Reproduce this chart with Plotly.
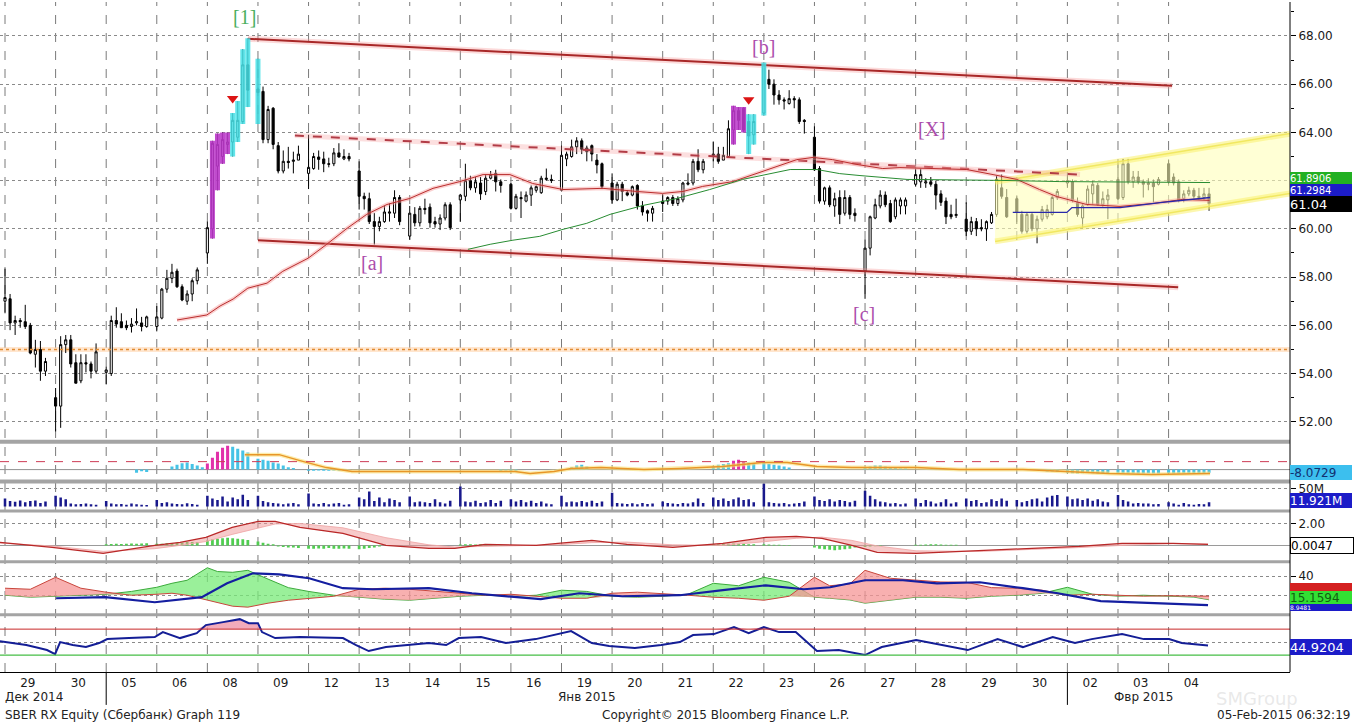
import plotly.graph_objects as go

# ---------------- data ----------------
day_labels = ["29", "30", "05", "06", "08", "09", "12", "13", "14", "15", "16", "19",
              "20", "21", "22", "23", "26", "27", "28", "29", "30", "02", "03", "04"]
month_labels = ["Дек 2014", "Янв 2015", "Фвр 2015"]
month_label_slots = [None, 115, 225]
month_break_slots = [20, 210]
BARS_PER_DAY = 9
SLOTS_PER_DAY = 10

opens = [57.0, 57.1, 56.1, 56.2, 56.15, 56.0, 54.8, 55.0, 54.1,
         53.0, 52.65, 55.2, 55.4, 54.45, 53.7, 54.45, 54.4, 54.1,
         54.05, 54.0, 56.2, 56.15, 56.0, 55.95, 56.1, 56.1, 55.95,
         55.95, 56.3, 57.5, 57.95, 58.25, 57.6, 57.0, 57.3, 57.85,
         59.0, 60.0, 62.6, 63.0, 63.5, 63.6, 63.8, 64.45, 66.8,
         65.8, 65.7, 63.7, 65.0, 63.45, 62.4, 62.8, 62.8, 62.85,
         62.3, 62.5, 62.98, 62.9, 62.7, 62.7, 63.15, 62.9, 63.0,
         62.4, 61.35, 61.25, 60.3, 60.1, 60.3, 60.65, 60.65, 61.3,
         59.7, 60.6, 60.25, 60.85, 60.9, 60.3, 60.2, 60.45, 61.0,
         61.2, 61.35, 62.0, 61.7, 61.9, 61.55, 62.1, 62.3, 61.95,
         61.85, 60.85, 61.3, 61.15, 61.4, 61.6, 61.5, 62.05, 62.05,
         61.6, 62.9, 63.0, 63.4, 63.65, 63.2, 63.45, 62.85, 62.7,
         61.9, 61.2, 61.85, 61.5, 61.4, 61.8, 60.95, 60.75, 60.65,
         61.15, 61.15, 61.3, 61.05, 61.2, 61.85, 61.9, 62.8, 62.45,
         63.1, 63.1, 62.85, 63.0, 64.1, 64.9, 65.0, 64.45, 63.9,
         64.8, 66.2, 66.0, 65.55, 65.35, 65.2, 65.4, 65.35, 64.5,
         63.8, 62.5, 61.15, 61.7, 60.95, 61.3, 60.65, 61.3, 60.65,
         58.25, 59.2, 60.45, 60.95, 61.4, 61.05, 60.5, 60.95, 60.95,
         61.85, 61.95, 61.9, 61.95, 61.85, 61.45, 61.15, 60.6, 60.55,
         60.4, 59.9, 60.3, 60.05, 60.0, 60.25, 60.6, 61.7, 61.3,
         61.25, 60.6, 59.9, 60.6, 60.0, 60.4, 60.5, 60.6, 61.3,
         61.9, 61.95, 61.1, 60.45, 61.0, 61.45, 61.8, 61.0, 61.2,
         62.05, 61.3, 62.7, 61.95, 62.15, 61.95, 61.9, 61.9, 61.85,
         62.7, 62.15, 61.95, 61.25, 61.45, 61.6, 61.35, 61.3, 61.45]
highs = [58.35, 57.3, 56.4, 56.3, 56.85, 56.1, 55.4, 55.35, 54.65,
         53.4, 55.55, 55.6, 55.6, 54.8, 54.8, 54.8, 54.5, 55.25,
         54.3, 56.4, 56.75, 56.5, 56.2, 56.3, 56.7, 56.35, 56.4,
         56.8, 57.55, 58.3, 58.55, 58.35, 57.7, 57.45, 57.95, 58.4,
         60.3, 63.65, 63.95, 64.0, 64.0, 64.8, 65.3, 67.45, 67.9,
         67.05, 65.9, 65.1, 65.05, 63.6, 63.25, 63.4, 63.2, 63.45,
         63.9, 63.15, 63.25, 63.2, 62.95, 63.35, 63.55, 63.3, 63.15,
         62.8, 61.5, 61.5, 60.65, 60.5, 60.95, 61.05, 61.6, 61.4,
         60.95, 60.9, 60.95, 61.25, 61.05, 60.5, 60.6, 61.1, 61.1,
         61.45, 62.7, 62.2, 62.15, 62.15, 62.25, 62.4, 62.45, 62.05,
         61.9, 61.45, 61.55, 61.55, 61.8, 61.8, 62.2, 62.5, 62.25,
         63.45, 63.2, 63.7, 63.8, 63.75, 63.45, 63.5, 63.1, 62.75,
         62.3, 61.95, 61.95, 61.6, 61.8, 61.85, 61.15, 60.8, 60.95,
         61.45, 61.35, 61.4, 61.35, 61.95, 62.3, 62.9, 63.3, 62.9,
         63.6, 63.4, 63.4, 64.5, 65.1, 65.05, 65.05, 64.75, 64.75,
         66.9, 66.6, 66.2, 65.75, 65.45, 65.75, 65.5, 65.45, 64.55,
         64.25, 62.6, 61.75, 61.8, 61.5, 61.6, 61.6, 61.4, 60.85,
         59.55, 60.55, 61.25, 61.6, 61.55, 61.2, 61.3, 61.3, 61.3,
         62.5, 62.5, 62.1, 62.15, 62.0, 61.6, 61.3, 61.0, 61.25,
         61.1, 60.5, 60.45, 60.4, 60.35, 60.7, 62.2, 62.25, 61.65,
         61.35, 60.75, 60.7, 60.7, 60.55, 60.95, 61.0, 61.4, 61.65,
         62.35, 62.05, 61.3, 61.05, 61.8, 62.0, 61.9, 61.55, 61.65,
         62.8, 62.9, 62.9, 62.4, 62.4, 62.05, 62.1, 62.05, 62.15,
         62.85, 62.3, 62.05, 61.6, 61.75, 61.7, 61.7, 61.7, 61.7]
lows = [56.5, 55.8, 55.6, 55.9, 55.85, 54.8, 54.25, 53.7, 53.9,
        51.6, 51.75, 54.85, 54.25, 53.6, 53.6, 54.05, 53.8, 54.0,
        53.55, 53.9, 55.9, 55.9, 55.8, 55.7, 56.0, 55.75, 55.9,
        55.75, 56.25, 57.35, 57.75, 57.55, 57.0, 56.85, 57.0, 57.7,
        58.55, 59.6, 61.6, 62.7, 63.1, 63.0, 63.6, 64.35, 65.05,
        64.35, 63.55, 63.55, 63.3, 62.3, 62.3, 62.5, 62.3, 62.85,
        61.65, 62.45, 62.45, 62.35, 62.55, 62.6, 62.95, 62.85, 62.8,
        60.8, 60.8, 60.2, 59.35, 59.9, 60.25, 60.3, 60.45, 60.15,
        59.55, 60.1, 60.1, 60.6, 60.05, 60.05, 59.95, 60.35, 59.95,
        60.3, 61.15, 61.6, 61.5, 61.2, 61.4, 62.05, 61.55, 61.5,
        60.8, 60.8, 60.45, 61.1, 60.95, 61.5, 61.45, 62.0, 61.9,
        61.55, 62.6, 62.95, 63.1, 63.1, 62.8, 62.8, 62.3, 61.65,
        61.05, 61.15, 61.15, 61.35, 61.35, 60.8, 60.55, 60.3, 60.3,
        60.7, 61.0, 60.95, 60.95, 61.1, 61.8, 61.8, 62.35, 62.3,
        62.8, 62.7, 62.85, 62.95, 63.5, 64.1, 64.0, 63.1, 63.5,
        64.7, 65.8, 65.15, 65.15, 64.95, 65.15, 65.0, 64.35, 63.95,
        62.4, 61.05, 61.0, 60.9, 60.5, 60.2, 60.55, 60.4, 60.3,
        57.1, 58.9, 60.4, 60.85, 60.9, 60.25, 60.4, 60.6, 60.6,
        61.75, 61.7, 61.7, 61.75, 60.8, 60.95, 60.2, 60.4, 60.45,
        59.7, 59.75, 59.7, 59.9, 59.5, 60.2, 60.5, 61.25, 60.45,
        60.2, 59.8, 59.8, 59.9, 59.4, 60.3, 60.4, 60.55, 61.2,
        61.7, 61.1, 60.5, 60.05, 60.95, 61.0, 60.95, 60.9, 60.4,
        61.2, 61.2, 61.85, 61.7, 61.85, 61.3, 61.6, 61.1, 61.8,
        61.85, 61.8, 61.1, 61.1, 61.35, 61.2, 61.2, 61.2, 60.75]
closes = [57.15, 56.1, 56.2, 56.15, 55.95, 54.85, 55.0, 54.1, 54.5,
          52.65, 55.2, 55.4, 54.4, 53.6, 54.45, 54.4, 54.1, 54.9,
          54.15, 56.2, 56.05, 55.9, 55.9, 56.05, 56.15, 55.95, 56.35,
          56.35, 57.5, 57.95, 58.2, 57.6, 57.05, 57.3, 57.85, 58.3,
          60.05, 63.55, 63.5, 63.7, 63.6, 64.5, 64.5, 66.8, 65.75,
          65.65, 63.7, 64.95, 63.5, 62.4, 62.8, 62.75, 62.85, 63.1,
          62.55, 63.0, 62.88, 62.7, 62.68, 63.15, 62.98, 63.0, 62.9,
          61.35, 61.25, 60.3, 60.1, 60.3, 60.7, 60.7, 61.3, 60.3,
          60.65, 60.25, 60.85, 60.8, 60.25, 60.2, 60.45, 61.0, 60.05,
          61.4, 62.0, 61.7, 61.95, 61.45, 62.1, 62.25, 61.95, 61.8,
          60.85, 61.35, 61.25, 61.4, 61.7, 61.75, 62.1, 62.1, 62.0,
          63.05, 63.1, 63.4, 63.65, 63.3, 63.35, 63.1, 62.65, 61.75,
          61.2, 61.85, 61.55, 61.4, 61.75, 60.95, 60.7, 60.65, 60.85,
          61.05, 61.3, 61.05, 61.25, 61.9, 61.9, 62.8, 62.45, 62.8,
          63.05, 62.8, 63.05, 64.15, 64.9, 64.5, 64.1, 63.85, 64.45,
          66.8, 66.0, 65.55, 65.35, 65.3, 65.4, 65.35, 64.45, 64.45,
          62.45, 61.15, 61.7, 61.0, 61.25, 60.6, 61.3, 60.6, 60.55,
          59.2, 60.5, 61.0, 61.4, 61.0, 60.3, 61.2, 61.2, 61.2,
          62.25, 62.25, 61.95, 61.85, 61.4, 61.1, 60.5, 60.5, 60.6,
          59.9, 60.3, 60.0, 60.0, 60.3, 60.6, 62.05, 61.35, 60.5,
          60.7, 59.9, 60.6, 60.0, 60.4, 60.8, 60.8, 61.3, 61.55,
          62.0, 61.2, 60.6, 60.95, 61.65, 61.85, 61.0, 61.25, 61.4,
          61.25, 62.7, 61.95, 62.15, 61.95, 61.85, 61.85, 61.75, 62.05,
          61.95, 61.9, 61.2, 61.45, 61.6, 61.35, 61.3, 61.45, 61.04]
volume_m = [22, 15, 13, 17, 12, 15, 17, 10, 14,
            30, 25, 20, 8, 6, 7, 8, 6, 5,
            15, 8, 6, 7, 5, 8, 6, 5, 4,
            18, 10, 12, 8, 7, 6, 9, 7, 5,
            30, 22, 18, 28, 14, 25, 20, 33, 18,
            30, 15, 12, 10, 8, 6, 8, 10, 6,
            36, 8, 7, 10, 6, 8, 10, 5, 6,
            25, 20, 42, 15, 25, 12, 22, 18, 12,
            28, 12, 14, 12, 10, 20, 12, 8, 16,
            56, 14, 12, 16, 10, 12, 18, 10, 16,
            20, 14, 18, 12, 16, 10, 14, 8, 6,
            30, 12, 14, 12, 15, 12, 16, 10, 14,
            38, 10, 8, 7, 9, 6, 10, 7, 8,
            14, 10, 8, 7, 10, 8, 12, 22, 10,
            25, 18, 22, 15, 20, 25, 18, 20, 12,
            75, 12, 10, 8, 10, 6, 8, 10, 14,
            28, 18, 15, 20, 14, 18, 15, 12, 16,
            44, 30, 20, 14, 12, 8, 10, 6, 8,
            22, 10, 18, 14, 8, 12, 20, 8, 12,
            22, 15, 18, 10, 12, 20, 15, 22, 16,
            18, 12, 15, 20, 22, 14, 25, 30, 32,
            28, 20, 22, 18, 22, 16, 20, 14, 12,
            32, 18, 14, 8, 10, 8, 8, 6, 7,
            12, 8, 5, 10, 6, 5, 7, 6, 11.921]

# signal-highlighted candles (indicator overlay) and sell signals
purple_idx = [37, 38, 39, 40, 130, 131, 132]
cyan_idx = [41, 42, 43, 44, 45, 133, 134, 135]
signal_idx = [41, 133]

# moving averages (slot, price)
red_ma_slots = [34.0, 39.9, 42.5, 45.1, 48.0, 51.8, 54.9, 59.9, 63.6, 67.6, 71.5, 75.5, 80.0, 84.6,
                89.9, 94.5, 99.8, 104.3, 110.3, 118.2, 124.9, 130.0, 134.0, 137.9, 143.9, 149.8,
                153.8, 156.5, 159.7, 163.6, 168.4, 173.5, 176.9, 183.4, 190.1, 195.3, 200.0, 204.5,
                207.9, 213.8, 220.4, 226.9, 232.8, 238.1]
red_ma_vals = [56.22, 56.43, 56.80, 57.09, 57.54, 57.75, 58.24, 58.78, 59.36, 60.02, 60.60, 61.01,
               61.26, 61.68, 61.96, 62.25, 62.25, 61.88, 61.63, 61.68, 61.55, 61.47, 61.55, 61.76,
               61.96, 62.38, 62.67, 62.87, 62.96, 62.87, 62.67, 62.50, 62.54, 62.50, 62.46, 62.25,
               62.05, 61.63, 61.34, 61.01, 60.93, 61.05, 61.22, 61.18]
green_ma_slots = [91.5, 95.9, 100.4, 105.7, 110.3, 115.0, 119.6, 126.1, 132.8, 139.3, 145.8, 150.6,
                  155.2, 160.5, 165.0, 169.0, 178.3, 196.7, 208.5, 238.2]
green_ma_vals = [59.15, 59.36, 59.53, 59.69, 59.98, 60.23, 60.60, 60.97, 61.26, 61.63, 62.05, 62.25,
                 62.46, 62.46, 62.29, 62.21, 62.05, 62.01, 61.96, 61.92]
blue_ma_slots = [199.2, 209.9, 210.9, 220.4, 228.3, 238.2]
blue_ma_vals = [60.68, 60.68, 60.88, 60.88, 61.09, 61.30]

# trend lines and channel (slot, price)
trend_upper = ([48.0, 230.7], [67.88, 65.93])
trend_lower = ([50.0, 231.9], [59.53, 57.58])
trend_dashed = ([57.3, 212.5], [63.87, 62.25])
support_level = 55.0
channel_lower = ([195.7, 254.0], [59.48, 61.47])
channel_upper = ([195.7, 254.0], [61.95, 63.95])

wave_labels = ["[1]", "[a]", "[b]", "[c]", "[X]"]
wave_slots = [47.4, 72.5, 150.0, 169.8, 183.2]
wave_prices = [68.79, 58.57, 67.55, 56.47, 64.16]

# panel 2 oscillator
osc_cyan_slots = [26, 27, 28, 33, 34, 35, 36, 37, 38, 39, 45, 46, 47, 48,
                  50, 51, 52, 53, 54, 55, 56, 57, 60, 61, 62, 63, 64, 65, 66, 67,
                  98, 99, 100, 101, 112, 113, 114, 115, 140, 141, 142, 143, 147, 148,
                  150, 151, 152, 153, 154, 155, 170, 171, 172, 173, 174, 175, 176, 177, 178,
                  206, 207, 208, 210, 211, 212, 213, 214, 215, 216, 217, 218,
                  220, 221, 222, 223, 224, 225, 226, 227, 228,
                  230, 231, 232, 233, 234, 235, 236, 237, 238]
osc_cyan_vals = [-8, -4, -6, 8, 12, 16, 18, 14, 10, 6, 57, 52, 48, 43,
                 27, 25, 22, 18, 15, 10, 6, 4, -3, -3, -2, -3, -3, -2, -3, -3,
                 -3, -2, -3, -3, 6, 10, 12, 8, 8, 12, 14, 16, 18, 14,
                 18, 14, 12, 10, 8, 5, 4, 8, 10, 10, 8, 6, 5, 3, 3,
                 -5, -5, -6, -8, -9, -10, -9, -8, -9, -10, -10, -9,
                 -10, -9, -10, -9, -10, -10, -9, -10, -10,
                 -9, -10, -10, -9, -10, -9, -10, -9, -8]
osc_magenta_slots = [40, 41, 42, 43, 44, 144, 145, 146]
osc_magenta_vals = [15, 30, 45, 55, 60, 22, 25, 20]
osc_line_slots = [47.4, 54.2, 58.3, 63.5, 68.6, 100.8, 103.8, 108.5, 111.9, 117.8, 126.3, 133.4,
                  141.9, 149.6, 154.6, 160.5, 167.4, 180.1, 188.6, 201.2, 209.7, 218.2, 226.7, 238.2]
osc_line_vals = [37.5, 37.5, 22.5, 5, -5, -5, -10, -5, 2.5, 5, 0, 2.5,
                 7.5, 17.5, 17.5, 7.5, 5, 5, 0, 0, -5, -10, -12.5, -10]

# panel 4 MACD
macd_slots = [-1.0, 9.3, 19.4, 29.6, 34.6, 39.7, 44.9, 50.0, 53.4, 58.3, 66.8, 75.3, 83.8, 88.9,
              94.9, 105.0, 109.3, 116.0, 122.9, 132.0, 141.9, 150.4, 156.4, 161.5, 167.4, 172.4,
              180.1, 192.7, 203.0, 212.3, 220.8, 230.9, 237.8]
macd_vals = [0.27, -0.18, -0.73, 0.0, 0.27, 0.73, 1.64, 2.18, 2.18, 1.64, 1.09, 0.0, -0.27, -0.27,
             0.09, 0.0, 0.18, 0.45, 0.09, -0.18, 0.18, 0.73, 0.82, 0.64, 0.0, -0.64,
             -0.73, -0.45, -0.27, -0.09, 0.18, 0.18, 0.09]
signal_vals = [0.2, -0.05, -0.55, -0.3, 0.0, 0.35, 1.0, 1.6, 1.95, 2.0, 1.6, 0.7, 0.05, -0.15,
               -0.1, 0.0, 0.05, 0.25, 0.3, 0.05, 0.0, 0.35, 0.65, 0.75, 0.45, -0.05,
               -0.5, -0.55, -0.4, -0.2, 0.0, 0.15, 0.12]
macd_hist_slots = [5, 6, 7, 8, 20, 21, 22, 23, 24, 25, 26, 27, 28, 30, 31, 32, 33, 34, 35, 36, 37, 38,
                   40, 41, 42, 43, 44, 45, 46, 47, 48, 50, 51, 52, 53, 54, 55, 56, 57, 58,
                   60, 61, 62, 63, 64, 65, 66, 67, 68, 70, 71, 72, 73, 74,
                   90, 91, 92, 93, 94, 95, 96, 97, 98, 140, 141, 142, 143, 144, 145, 146, 147, 148,
                   150, 151, 152, 153, 154, 155, 160, 161, 162, 163, 164, 165, 166, 167, 168,
                   170, 171, 172, 173, 180, 181, 182, 183, 184, 185, 186, 187, 188]
macd_hist_vals = [-0.05, -0.06, -0.05, -0.04, 0.1, 0.12, 0.15, 0.12, 0.15, 0.18, 0.15, 0.18, 0.2,
                  0.15, 0.15, 0.2, 0.2, 0.25, 0.25, 0.3, 0.3, 0.3,
                  0.45, 0.55, 0.6, 0.65, 0.7, 0.65, 0.6, 0.55, 0.5, 0.35, 0.25, 0.15, 0.1,
                  -0.1, -0.15, -0.2, -0.2, -0.25,
                  -0.3, -0.3, -0.28, -0.3, -0.25, -0.3, -0.3, -0.28, -0.3, -0.35, -0.3, -0.25, -0.2, -0.1,
                  0.08, 0.1, 0.1, 0.08, 0.1, 0.08, 0.06, 0.05, 0.05,
                  0.1, 0.1, 0.15, 0.15, 0.18, 0.15, 0.12, 0.1, 0.1,
                  0.1, 0.08, 0.06, 0.05, 0.04, 0.03,
                  -0.2, -0.3, -0.35, -0.4, -0.45, -0.4, -0.35, -0.3, -0.2,
                  -0.15, -0.1, -0.08, -0.05, 0.05, 0.06, 0.08, 0.1, 0.1, 0.08, 0.06, 0.05, 0.05]

# panel 5 DMI
dmi_slots = [0, 5, 10, 15, 20, 25, 30, 33, 36, 40, 42, 45, 48, 52, 56, 60, 65, 70, 75, 80,
             85, 90, 95, 100, 105, 110, 115, 120, 125, 130, 135, 140, 145, 150, 155, 160, 163, 167,
             170, 175, 180, 185, 190, 195, 200, 205, 210, 215, 220, 225, 230, 235, 238]
plus_di = [20, 17.9, 18.9, 20, 21, 24, 28.4, 32.6, 35.8, 49, 45, 44.2, 46.3, 37, 28, 24, 20, 17.9,
           15.8, 14.7, 16.8, 18.9, 20, 18.9, 20, 25.3, 24, 18.9, 17.9, 18.9, 21, 32.6, 30, 38.9,
           33.7, 17.9, 16.8, 15, 11.6, 14.7, 17.9, 17.9, 16.8, 18.9, 20, 22, 28.4, 21, 19, 20,
           18.9, 18, 15.2]
minus_di = [27.4, 26.3, 38.9, 27.4, 23.2, 20, 21, 22.1, 20, 14.7, 11.6, 8.4, 7.4, 11.6, 14.7,
            16.8, 18.9, 26.3, 27.4, 26.3, 24, 22.1, 20, 21, 19, 16.8, 16.8, 22.1, 23.2, 22, 20,
            17.9, 16.8, 14.7, 18.9, 38.9, 30, 32, 46.3, 37.9, 35.8, 34, 33.7, 28, 27.4, 25.3, 20,
            21, 20, 19, 19.5, 19, 19]
adx_slots = [10.1, 19.8, 29.6, 38.9, 43.9, 49.0, 54.2, 60.1, 66.8, 72.7, 83.8, 92.3, 105.9, 113.5,
             122.0, 133.4, 141.9, 150.4, 157.9, 163.1, 170.0, 177.5, 184.2, 192.7, 201.2, 208.1,
             216.6, 226.7, 237.8]
adx_vals = [16.8, 17.9, 12.6, 17.9, 32.6, 43.2, 42.1, 37.9, 27.4, 26.3, 27.4, 22.1, 15.8, 22.1,
            18.9, 20, 25.3, 30.5, 26.3, 28.4, 35.8, 35.8, 32.6, 33.7, 27.4, 22.1, 13.7, 11.6, 9.5]

# panel 6 RSI
rsi_slots = [-1.0, 1.6, 4.2, 6.7, 8.3, 9.9, 10.9, 13.4, 16.0, 18.6, 20.2, 24.5, 29.6, 31.2, 34.6,
             37.9, 39.7, 43.1, 46.4, 48.2, 50.0, 50.8, 53.4, 58.3, 66.8, 69.4, 71.9, 75.3, 80.4,
             83.8, 87.2, 89.7, 94.1, 99.0, 104.9, 109.3, 111.9, 116.0, 119.4, 124.5, 129.7, 133.4,
             136.0, 140.1, 144.1, 147.0, 150.0, 153.0, 156.3, 160.5, 164.8, 170.0, 173.3, 180.1,
             186.0, 190.3, 196.2, 201.2, 207.1, 211.5, 214.8, 220.8, 225.1, 230.1, 232.6, 237.8]
rsi_vals = [51.5, 48.5, 45.4, 40.8, 37.7, 31.5, 50.0, 45.4, 42.3, 48.5, 54.6, 56.2, 57.7, 65.4, 56.2,
            63.8, 76.2, 80.8, 85.4, 79.2, 79.2, 65.4, 56.2, 57.7, 56.2, 45.4, 36.2, 42.3, 45.4,
            48.5, 45.4, 56.2, 57.7, 48.5, 54.6, 62.3, 66.9, 48.5, 43.8, 40.8, 45.4, 50.0,
            60.8, 62.3, 73.1, 63.8, 73.1, 65.4, 65.4, 36.2, 37.7, 30.0, 42.3, 53.1,
            43.8, 37.7, 54.6, 42.3, 57.7, 48.5, 54.6, 62.3, 54.6, 54.6, 48.5, 44.9]

# last-value boxes on the right axis: (axis, position, text, background, text colour, border, height)
value_boxes = [
    ("y", 62.10, "61.8906", "#22b022", "white", None, 12),
    ("y", 61.60, "61.2984", "#1c1cc8", "white", None, 12),
    ("y", 61.04, "61.04", "black", "white", None, 16),
    ("y2", -8.07, "-8.0729", "#3cbfee", "#123070", None, 15),
    ("y3", 16.0, "11.921M", "#1c1cc8", "white", None, 15),
    ("y4", 0.0047, "0.0047", "white", "black", "black", 15),
    ("y5", 28.6, " ", "#d42020", "white", None, 8),
    ("y5", 6.9, "8.9481", "#1c1cc8", "white", None, 7),
    ("y5", 17.4, "15.1594", "#33e033", "#106010", None, 13),
    ("y6", 43.0, "44.9204", "#1c1cc8", "white", None, 16),
]

# ---------------- figure ----------------
FONT = "DejaVu Sans"
SERIF = "Liberation Serif"
slots = [(i // BARS_PER_DAY) * SLOTS_PER_DAY + i % BARS_PER_DAY for i in range(len(closes))]
H_PX = 672.0


def pf(y_px):
    return (H_PX - y_px) / H_PX


fig = go.Figure()


def line(x, y, color, width, yaxis="y", dash="solid", **kw):
    fig.add_trace(go.Scatter(x=x, y=y, mode="lines", yaxis=yaxis, hoverinfo="skip",
                             line=dict(color=color, width=width, dash=dash), **kw))


# yellow channel
line(channel_lower[0] + channel_upper[0][::-1], channel_lower[1] + channel_upper[1][::-1],
     "rgba(0,0,0,0)", 0, fill="toself", fillcolor="rgba(255,255,185,0.6)")
for ch in (channel_lower, channel_upper):
    line(ch[0], ch[1], "rgba(250,240,110,0.55)", 6)
    line(ch[0], ch[1], "rgba(240,230,90,0.9)", 1.5)

# trend lines
for tl in (trend_upper, trend_lower):
    line(tl[0], tl[1], "rgba(245,150,150,0.35)", 6)
    line(tl[0], tl[1], "rgb(168,40,40)", 2)
line(trend_dashed[0], trend_dashed[1], "rgba(245,150,150,0.3)", 5)
line(trend_dashed[0], trend_dashed[1], "rgb(178,60,70)", 2, dash="dash")

# moving averages
line(red_ma_slots, red_ma_vals, "rgba(245,150,150,0.45)", 4)
line(red_ma_slots, red_ma_vals, "rgb(185,45,45)", 1)
line(green_ma_slots, green_ma_vals, "rgb(40,140,50)", 1)
line(blue_ma_slots, blue_ma_vals, "rgb(40,40,170)", 1.3)

# highlight bars behind candles
for idx, col in ((purple_idx, "rgba(185,55,200,0.9)"), (cyan_idx, "rgba(70,225,230,0.85)")):
    xs, ys = [], []
    for i in idx:
        xs += [slots[i], slots[i], None]
        ys += [lows[i], highs[i], None]
    line(xs, ys, col, 5)

fig.add_trace(go.Candlestick(
    x=slots, open=opens, high=highs, low=lows, close=closes, yaxis="y",
    increasing=dict(line=dict(color="black", width=1), fillcolor="white"),
    decreasing=dict(line=dict(color="black", width=1), fillcolor="black"),
    whiskerwidth=0, hoverinfo="skip"))

fig.add_trace(go.Scatter(x=[slots[i] for i in signal_idx], y=[highs[i] + 0.6 for i in signal_idx],
                         mode="markers", yaxis="y", hoverinfo="skip",
                         marker=dict(symbol="triangle-down", size=10, color="rgb(220,20,20)")))

# panel 2: oscillator
fig.add_trace(go.Bar(x=osc_cyan_slots, y=osc_cyan_vals, yaxis="y2", width=0.6,
                     marker=dict(color="rgb(70,195,230)", line=dict(width=0)), hoverinfo="skip"))
fig.add_trace(go.Bar(x=osc_magenta_slots, y=osc_magenta_vals, yaxis="y2", width=0.6,
                     marker=dict(color="rgb(225,50,170)", line=dict(width=0)), hoverinfo="skip"))
line(osc_line_slots, osc_line_vals, "rgba(250,225,120,0.6)", 4, yaxis="y2")
line(osc_line_slots, osc_line_vals, "rgb(232,150,40)", 1.5, yaxis="y2")

# panel 3: volume
fig.add_trace(go.Bar(x=slots, y=volume_m, yaxis="y3", width=0.5,
                     marker=dict(color="rgb(25,25,140)", line=dict(width=0)), hoverinfo="skip"))

# panel 4: MACD
fig.add_trace(go.Bar(x=macd_hist_slots, y=macd_hist_vals, yaxis="y4", width=0.55,
                     marker=dict(color="rgb(80,205,80)", line=dict(width=0)), hoverinfo="skip"))
line(macd_slots, signal_vals, "rgba(240,170,170,0.9)", 1, yaxis="y4")
line(macd_slots, macd_vals, "rgb(185,40,40)", 1.2, yaxis="y4", fill="tonexty",
     fillcolor="rgba(240,150,150,0.5)")

# panel 5: DMI with coloured fill between +DI and -DI
di_low = [min(a, b) for a, b in zip(plus_di, minus_di)]
line(dmi_slots, di_low, "rgba(0,0,0,0)", 0, yaxis="y5")
line(dmi_slots, plus_di, "rgb(60,170,60)", 1, yaxis="y5", fill="tonexty",
     fillcolor="rgba(120,235,120,0.75)")
line(dmi_slots, di_low, "rgba(0,0,0,0)", 0, yaxis="y5")
line(dmi_slots, minus_di, "rgb(200,70,60)", 1, yaxis="y5", fill="tonexty",
     fillcolor="rgba(245,150,150,0.75)")
line(adx_slots, adx_vals, "rgb(20,30,160)", 2.2, yaxis="y5")

# panel 6: RSI
line([rsi_slots[0], rsi_slots[-1]], [70, 70], "rgba(0,0,0,0)", 0, yaxis="y6")
line(rsi_slots, [max(v, 70) for v in rsi_vals], "rgba(0,0,0,0)", 0, yaxis="y6",
     fill="tonexty", fillcolor="rgba(240,150,170,0.8)")
line(rsi_slots, rsi_vals, "rgb(20,30,150)", 2, yaxis="y6")

# ---------------- shapes ----------------
shapes = []
for d in range(len(day_labels)):
    shapes.append(dict(type="line", xref="x", yref="paper", x0=d * SLOTS_PER_DAY,
                       x1=d * SLOTS_PER_DAY, y0=0, y1=1, layer="below",
                       line=dict(color="#7a7a7a", width=1, dash="dash")))
for s in month_break_slots:
    shapes.append(dict(type="line", xref="x", yref="paper", x0=s, x1=s, y0=0, y1=pf(705),
                       line=dict(color="black", width=1)))
shapes.append(dict(type="line", xref="paper", yref="y", x0=0, x1=1, y0=support_level,
                   y1=support_level, layer="below",
                   line=dict(color="rgba(255,205,160,0.5)", width=5)))
shapes.append(dict(type="line", xref="paper", yref="y", x0=0, x1=1, y0=support_level,
                   y1=support_level, line=dict(color="rgb(225,140,50)", width=1.5, dash="dot")))
shapes.append(dict(type="line", xref="paper", yref="y2", x0=0, x1=1, y0=20, y1=20,
                   line=dict(color="rgb(205,60,85)", width=1, dash="dash")))
shapes.append(dict(type="line", xref="paper", yref="y2", x0=0, x1=1, y0=0, y1=0, layer="below",
                   line=dict(color="#909090", width=1)))
shapes.append(dict(type="line", xref="paper", yref="y6", x0=0, x1=1, y0=70, y1=70,
                   line=dict(color="rgb(200,40,40)", width=1)))
shapes.append(dict(type="line", xref="paper", yref="y6", x0=0, x1=1, y0=30, y1=30,
                   line=dict(color="rgb(70,190,70)", width=1.2)))
for y0, y1 in ((439, 443), (479, 483), (509, 512), (560, 563), (613, 616)):
    shapes.append(dict(type="rect", xref="paper", yref="paper", x0=0, x1=1, y0=pf(y1), y1=pf(y0),
                       fillcolor="#a4a4a4", line=dict(width=0), layer="above"))
shapes.append(dict(type="line", xref="paper", yref="paper", x0=1, x1=1, y0=0, y1=1,
                   line=dict(color="black", width=1)))

# ---------------- annotations ----------------
annots = []
for t, s, p in zip(wave_labels, wave_slots, wave_prices):
    col = "rgb(75,175,95)" if t == "[1]" else "rgb(172,78,172)"
    annots.append(dict(x=s, y=p, xref="x", yref="y", text=t, showarrow=False,
                       yanchor="middle", font=dict(family=SERIF, size=20, color=col)))
for ax, val, txt, bg, fg, bc, hh in value_boxes:
    if hh >= 16:
        fs = 13
    elif hh >= 13:
        fs = 12
    elif hh >= 10:
        fs = 10
    else:
        fs = 6
    annots.append(dict(x=1, xref="paper", y=val, yref=ax, xanchor="left", yanchor="middle",
                       text=txt, showarrow=False, bgcolor=bg, width=62, height=hh,
                       align="left", borderpad=0, borderwidth=1 if bc else 0,
                       bordercolor=bc if bc else bg,
                       font=dict(family=FONT, size=fs, color=fg)))
annots.append(dict(x=0.002, xref="paper", y=pf(697), yref="paper", xanchor="left",
                   yanchor="middle", text=month_labels[0], showarrow=False,
                   font=dict(family=FONT, size=12, color="#222")))
for lbl, s in zip(month_labels[1:], month_label_slots[1:]):
    annots.append(dict(x=s, xref="x", y=pf(697), yref="paper", text=lbl, showarrow=False,
                       yanchor="middle", font=dict(family=FONT, size=12, color="#222")))
annots.append(dict(x=1300 / 1290, xref="paper", y=pf(699), yref="paper", text="SMGroup",
                   yanchor="middle", showarrow=False,
                   font=dict(family=FONT, size=18, color="rgba(205,205,205,0.45)")))
annots.append(dict(x=0.002, xref="paper", y=pf(715), yref="paper", xanchor="left",
                   yanchor="middle", text="SBER RX Equity (Сбербанк) Graph 119", showarrow=False,
                   font=dict(family=FONT, size=12, color="#222")))
annots.append(dict(x=725 / 1290, xref="paper", y=pf(715), yref="paper", yanchor="middle",
                   text="Copyright© 2015 Bloomberg Finance L.P.", showarrow=False,
                   font=dict(family=FONT, size=12, color="#222")))
annots.append(dict(x=1352 / 1290, xref="paper", y=pf(715), yref="paper", xanchor="right",
                   yanchor="middle", text="05-Feb-2015 06:32:19", showarrow=False,
                   font=dict(family=FONT, size=12, color="#222")))

tickfont = dict(family=FONT, size=12, color="#1a1a1a")


def yax(domain, rng, tickvals=None, ticktext=None, grid=False, **kw):
    d = dict(domain=domain, range=rng, anchor="x", side="right", showline=False,
             zeroline=False, fixedrange=True, tickfont=tickfont, ticks="outside",
             ticklen=5, tickcolor="black", showgrid=grid, gridcolor="#8a8a8a",
             griddash="dot", gridwidth=1)
    if tickvals is not None:
        d.update(tickmode="array", tickvals=tickvals, ticktext=ticktext)
    else:
        d.update(showticklabels=False, ticks="")
    d.update(kw)
    return d


main_ticks = list(range(52, 69, 2))
# the 62.00 label sits under the last-value boxes, as in the original
main_tick_text = ["" if v == 62 else f"{v:.2f}" for v in main_ticks]
fig.update_layout(
    width=1354, height=723,
    margin=dict(l=0, r=64, t=0, b=51, pad=0),
    paper_bgcolor="white", plot_bgcolor="white",
    showlegend=False, barmode="overlay", boxgap=0.4,
    xaxis=dict(domain=[0, 1], range=[-0.99, 254.0], anchor="y6", tickmode="array",
               tickvals=[d * SLOTS_PER_DAY + 4.5 for d in range(len(day_labels))],
               ticktext=day_labels, ticks="", showline=True, linecolor="black", linewidth=1,
               showgrid=False, zeroline=False, tickfont=tickfont, fixedrange=True,
               rangeslider=dict(visible=False)),
    yaxis=yax([pf(439), 1.0], [51.258, 69.406], main_ticks, main_tick_text,
              grid=True, minor=dict(dtick=1, tick0=0, ticks="outside", ticklen=3,
                                    tickcolor="black", showgrid=False)),
    yaxis2=yax([pf(479), pf(443)], [-25, 65]),
    yaxis3=yax([pf(509), pf(483)], [-8.33, 63.9], [50], ["50M"], grid=True),
    yaxis4=yax([pf(560), pf(512)], [-1.364, 3.0], [2], ["2.00"], grid=True,
               zeroline=True, zerolinecolor="#9a9a9a", zerolinewidth=1),
    yaxis5=yax([pf(613), pf(563)], [1.05, 53.68], [20, 40], ["", "40"], grid=True),
    yaxis6=yax([0, pf(616)], [3.85, 90], [50], [""], grid=True),
    shapes=shapes, annotations=annots,
)

fig.write_html("out.html", config={"displayModeBar": False, "staticPlot": True},
               post_script="document.body.style.margin='0';document.body.style.padding='0';"
                           "document.body.style.overflow='hidden';")
